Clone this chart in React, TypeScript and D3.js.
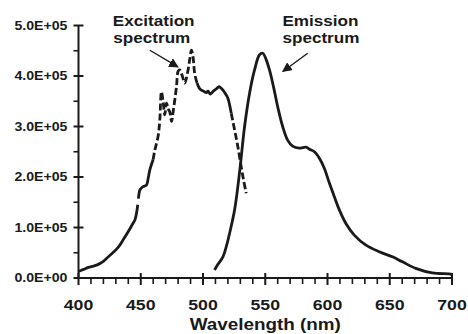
import React from "react";
import * as d3 from "d3";

// excitation spectrum (wavelength nm, intensity in units of 1E+05)
const exWave = [
  400, 404, 408, 411, 415, 420, 424, 428, 432, 436, 440, 443, 445.3, 446.5, 447.6,
  448.1, 449.3, 450.5, 452, 454.6, 456, 457.3, 459.9, 461.3, 463.9, 465.3, 466.6, 468,
  469.3, 470.7, 472, 473.3, 474.7, 476, 478.7, 480, 481.3, 483.5, 485.3, 488,
  489.3, 490.7, 492, 493.3, 495.2, 497, 498.7, 500.5, 502.7, 504, 505.9, 507.5,
  509.3, 511, 512.8, 514.5, 516, 518, 520, 522.7, 525.4, 528, 530.7, 532.5, 534.7,
];
const exValue = [
  0.13, 0.17, 0.21, 0.23, 0.26, 0.33, 0.42, 0.51, 0.61, 0.76, 0.92, 1.05, 1.15, 1.27, 1.45,
  1.57, 1.74, 1.78, 1.81, 1.84, 1.98, 2.14, 2.34, 2.53, 2.8, 3.13, 3.69, 3.49,
  3.23, 3.46, 3.35, 3.29, 3.1, 3.29, 3.79, 4.09, 4.12, 3.99, 3.86, 4.12,
  4.32, 4.51, 4.38, 4.05, 3.86, 3.76, 3.72, 3.7, 3.67, 3.7, 3.64, 3.68,
  3.72, 3.75, 3.79, 3.76, 3.72, 3.65, 3.56, 3.26, 2.93, 2.6, 2.2, 1.95, 1.68,
];

// emission spectrum
const emWave = [
  509.3, 512, 516, 519, 521.4, 525.4, 529.4, 533.4, 537.4, 541.4, 545.4, 548, 550.8,
  553.4, 556.6, 560, 564, 568, 572, 577.4, 582.8, 585.5, 589.5, 593.5, 597.5, 601.5,
  605.5, 609.5, 614.8, 621.5, 630.9, 641.5, 652.2, 660.2, 670.9, 684.2, 697.6, 700,
];
const emValue = [
  0.16, 0.27, 0.42, 0.65, 0.89, 1.35, 2.1, 3.0, 3.66, 4.12, 4.42, 4.45, 4.32,
  4.12, 3.79, 3.39, 3.0, 2.73, 2.61, 2.57, 2.59, 2.55, 2.5, 2.37, 2.17, 1.88,
  1.61, 1.35, 1.08, 0.85, 0.65, 0.52, 0.42, 0.32, 0.19, 0.1, 0.08, 0.07,
];

// pieces of the excitation trace: [from, to, dashed]
const exPieces: [number, number, boolean][] = [
  [400, 447.6, false],
  [448.1, 459.9, false],
  [459.9, 495.2, true],
  [495.2, 522.7, false],
  [522.7, 534.7, true],
];

const xTicks = [400, 450, 500, 550, 600, 650, 700];
const yTicks = [0, 1, 2, 3, 4, 5];
const yTickLabels = ["0.0E+00", "1.0E+05", "2.0E+05", "3.0E+05", "4.0E+05", "5.0E+05"];

const W = 468;
const H = 334;
const margin = { top: 25.5, right: 16, bottom: 56, left: 78.5 };
const font = "'Liberation Sans', Arial, Helvetica, sans-serif";
const ink = "#1a1a1a";
const sx = 1.18; // text in the original is stretched sideways

type Pt = { w: number; v: number };

const App = () => {
  const x = d3.scaleLinear().domain([400, 700]).range([margin.left, W - margin.right]);
  const y = d3.scaleLinear().domain([0, 5]).range([H - margin.bottom, margin.top]);

  const exData: Pt[] = exWave.map((w, i) => ({ w, v: exValue[i] }));
  const emData: Pt[] = emWave.map((w, i) => ({ w, v: emValue[i] }));

  const line = d3
    .line<Pt>()
    .x((d) => x(d.w))
    .y((d) => y(d.v))
    .curve(d3.curveCatmullRom.alpha(0.5));

  const minorX = d3.range(400, 701, 10).filter((t) => t % 50 !== 0);
  const minorY = [0.5, 1.5, 2.5, 3.5, 4.5];
  const y0 = y(0);

  const label = (tx: number, ty: number, text: string, size: number, anchor: string) => (
    <text
      transform={`translate(${tx},${ty}) scale(${sx},1)`}
      fontFamily={font}
      fontWeight="bold"
      fontSize={size}
      fill={ink}
      textAnchor={anchor}
    >
      {text}
    </text>
  );

  return (
    <svg
      width={W}
      height={H}
      style={{ position: "absolute", left: 0, top: 0, background: "#fff" }}
    >
      <defs>
        <marker id="arr" viewBox="0 0 10 10" refX="9" refY="5" markerWidth="7" markerHeight="7" orient="auto">
          <path d="M0,0 L10,5 L0,10 z" fill={ink} />
        </marker>
      </defs>

      {/* axes */}
      <line x1={x(400)} x2={x(700)} y1={y0} y2={y0} stroke={ink} strokeWidth={2} />
      <line x1={x(400)} x2={x(400)} y1={y0} y2={y(5)} stroke={ink} strokeWidth={2} />
      {xTicks.map((t) => (
        <g key={"xt" + t}>
          <line x1={x(t)} x2={x(t)} y1={y0 - 5} y2={y0 + 7} stroke={ink} strokeWidth={2} />
          {label(x(t), y0 + 32, String(t), 15, "middle")}
        </g>
      ))}
      {minorX.map((t) => (
        <line key={"xm" + t} x1={x(t)} x2={x(t)} y1={y0} y2={y0 + 6} stroke={ink} strokeWidth={1.6} />
      ))}
      {yTicks.map((t, i) => (
        <g key={"yt" + t}>
          <line x1={x(400) - 5} x2={x(400) + 5} y1={y(t)} y2={y(t)} stroke={ink} strokeWidth={2} />
          {label(x(400) - 11, y(t) + 4.3, yTickLabels[i], 12, "end")}
        </g>
      ))}
      {minorY.map((t) => (
        <line key={"ym" + t} x1={x(400) - 5} x2={x(400)} y1={y(t)} y2={y(t)} stroke={ink} strokeWidth={1.6} />
      ))}
      {label((x(400) + x(700)) / 2, H - 4, "Wavelength (nm)", 16, "middle")}

      {/* spectra */}
      {exPieces.map(([a, b, dashed], i) => (
        <path
          key={"ex" + i}
          d={line(exData.filter((d) => d.w >= a && d.w <= b)) || ""}
          fill="none"
          stroke={ink}
          strokeWidth={2.8}
          strokeDasharray={dashed ? "7,3" : undefined}
          strokeLinejoin="round"
        />
      ))}
      <path d={line(emData) || ""} fill="none" stroke={ink} strokeWidth={2.8} strokeLinejoin="round" />

      {/* annotations */}
      {label(x(427.6), y(4.99), "Excitation", 14.5, "start")}
      {label(x(428), y(4.65), "spectrum", 14.5, "start")}
      <line
        x1={x(457.3)} y1={y(4.51)} x2={x(479.9)} y2={y(4.18)}
        stroke={ink} strokeWidth={1.4} markerEnd="url(#arr)"
      />
      {label(x(563.8), y(4.99), "Emission", 14.5, "start")}
      {label(x(563.8), y(4.65), "spectrum", 14.5, "start")}
      <line
        x1={x(584.1)} y1={y(4.45)} x2={x(564.1)} y2={y(4.09)}
        stroke={ink} strokeWidth={1.4} markerEnd="url(#arr)"
      />
    </svg>
  );
};

export default App;
